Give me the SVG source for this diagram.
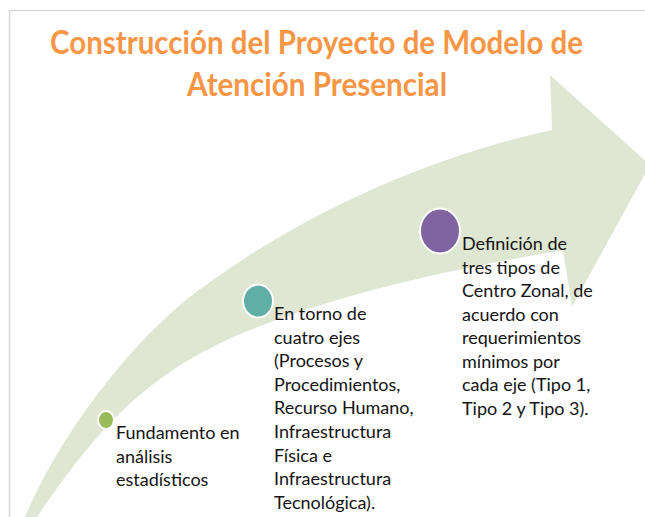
<svg xmlns="http://www.w3.org/2000/svg" width="645" height="517" viewBox="0 0 645 517">
<style>
.title{font-family:Lato,"Open Sans","Liberation Sans",sans-serif;font-weight:bold;font-size:32px;fill:#F79646;text-anchor:middle}
.body{font-family:Lato,"Open Sans","Liberation Sans",sans-serif;font-size:18px;fill:#141414}
.dot{stroke:#ffffff;stroke-width:2}
</style>
<rect x="0" y="0" width="645" height="517" fill="#ffffff"/>
<rect x="9.5" y="10.5" width="700" height="600" fill="none" stroke="#d9d9d9" stroke-width="1.5"/>
<g id="arrow">
<path d="M25,517 C60,435 135,332 213,280 C313,208 437,155 552,130 L550,75 L650,165 L572,307 L563,250 C459,268 348,291 250,330 C140,374 91,439 37,517 Z" fill="#dfe7d2"/>
</g>
<g id="title">
<text class="title" x="316.5" y="54" textLength="533" lengthAdjust="spacingAndGlyphs">Construcción del Proyecto de Modelo de</text>
<text class="title" x="317" y="96" textLength="260" lengthAdjust="spacingAndGlyphs">Atención Presencial</text>
</g>
<g id="node1">
<ellipse class="dot" cx="106" cy="420" rx="8" ry="9" fill="#9BBB59"/>
<text class="body"><tspan x="116" y="439">Fundamento en</tspan><tspan x="116" y="462.5">análisis</tspan><tspan x="116" y="486">estadísticos</tspan></text>
</g>
<g id="node2">
<ellipse class="dot" cx="258" cy="301" rx="15" ry="16.5" fill="#5FAFA5"/>
<text class="body"><tspan x="274" y="320">En torno de</tspan><tspan x="274" y="343.6">cuatro ejes</tspan><tspan x="274" y="367.2">(Procesos y</tspan><tspan x="274" y="390.8">Procedimientos,</tspan><tspan x="274" y="414.4">Recurso Humano,</tspan><tspan x="274" y="438">Infraestructura</tspan><tspan x="274" y="461.6">Física e</tspan><tspan x="274" y="485.2">Infraestructura</tspan><tspan x="274" y="508.8">Tecnológica).</tspan></text>
</g>
<g id="node3">
<ellipse class="dot" cx="440" cy="231" rx="20" ry="22.5" fill="#8064A2"/>
<text class="body"><tspan x="462" y="250">Definición de</tspan><tspan x="462" y="273.5">tres tipos de</tspan><tspan x="462" y="297">Centro Zonal, de</tspan><tspan x="462" y="320.5">acuerdo con</tspan><tspan x="462" y="344">requerimientos</tspan><tspan x="462" y="367.5">mínimos por</tspan><tspan x="462" y="391">cada eje (Tipo 1,</tspan><tspan x="462" y="414.5">Tipo 2 y Tipo 3).</tspan></text>
</g>
</svg>
